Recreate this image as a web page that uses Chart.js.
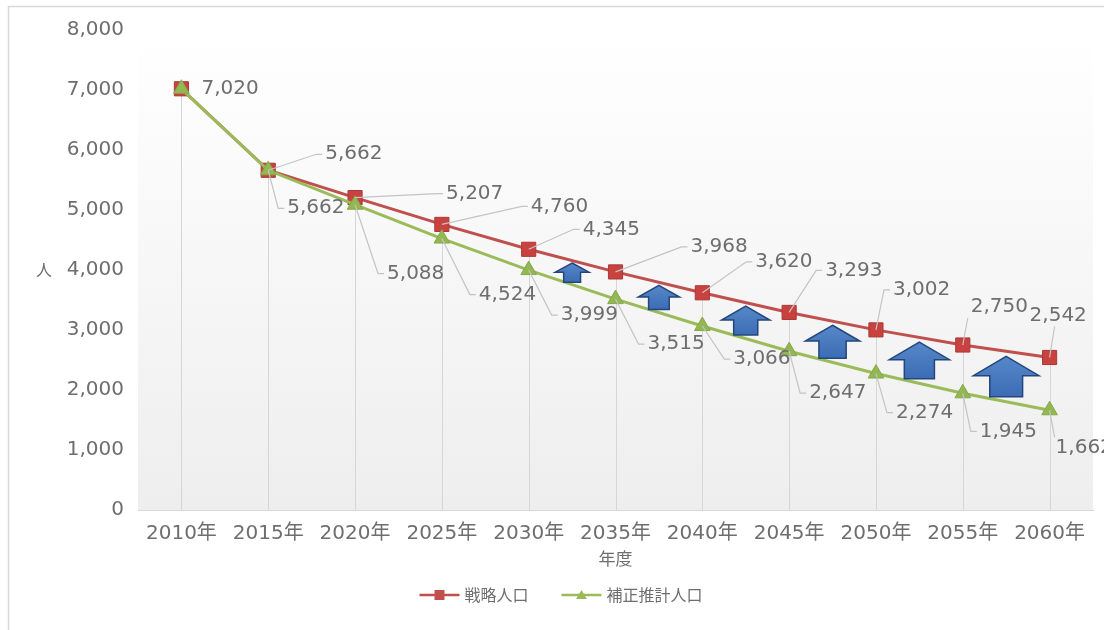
<!DOCTYPE html>
<html>
<head>
<meta charset="utf-8">
<script src="https://cdn.jsdelivr.net/npm/chart.js@4.4.0/dist/chart.umd.min.js"></script>
<style>
  body { margin: 0; background: #fff; }
  #wrap { width: 1104px; height: 630px; }
</style>
</head>
<body>
<div id="wrap"><canvas id="chart"></canvas></div>
<script>
// データ
const years = ["2010年", "2015年", "2020年", "2025年", "2030年", "2035年", "2040年", "2045年", "2050年", "2055年", "2060年"];
const senryaku = [7020, 5662, 5207, 4760, 4345, 3968, 3620, 3293, 3002, 2750, 2542];
const hosei = [7020, 5662, 5088, 4524, 3999, 3515, 3066, 2647, 2274, 1945, 1662];
const yTicks = [0, 1000, 2000, 3000, 4000, 5000, 6000, 7000, 8000];

// ラベル位置 (点からのずれ: 文字左端x, 文字中心y)
const redLabelPos = [[20, 0], [57, -16], [91, -4], [89, -18], [54, -20], [75, -25], [53, -31], [36, -42], [17, -40], [8, -38], [-20, -42]];
const greenLabelPos = [null, [19, 38], [32, 69], [37, 56], [32, 45], [32, 45], [31, 33], [20, 42], [20, 39], [17, 38], [6, 38]];
const arrowFrom = 4; // 2030年から矢印

const FONT = "'DejaVu Sans', 'Noto Sans CJK JP', sans-serif";
const JP = "'Noto Sans CJK JP', sans-serif";
const TEXT = '#6e6e6e';

function fmt(v) {
    return v.toLocaleString('en-US');
}

// 背景・枠・グラデーション
const backgroundPlugin = {
    id: 'background',
    beforeDraw(chart) {
        const ctx = chart.ctx;
        const a = chart.chartArea;
        ctx.save();
        ctx.fillStyle = '#fff';
        ctx.fillRect(0, 0, chart.width, chart.height);
        ctx.strokeStyle = '#d9d9d9';
        ctx.lineWidth = 1.5;
        ctx.beginPath();
        ctx.moveTo(8.5, chart.height);
        ctx.lineTo(8.5, 6.5);
        ctx.lineTo(chart.width, 6.5);
        ctx.stroke();
        const g = ctx.createLinearGradient(0, a.top, 0, a.bottom);
        g.addColorStop(0, '#ffffff');
        g.addColorStop(0.3, '#fafafa');
        g.addColorStop(1, '#eeeeee');
        ctx.fillStyle = g;
        ctx.fillRect(a.left, a.top, a.right - a.left, a.bottom - a.top);
        ctx.restore();
    }
};

// 降下線
const dropLinePlugin = {
    id: 'dropLines',
    beforeDatasetsDraw(chart) {
        const ctx = chart.ctx;
        const m0 = chart.getDatasetMeta(0).data;
        const m1 = chart.getDatasetMeta(1).data;
        ctx.save();
        ctx.strokeStyle = '#d6d6d6';
        ctx.lineWidth = 1;
        for (let i = 0; i < m0.length; i++) {
            const x = Math.round(m0[i].x) + 0.5;
            ctx.beginPath();
            ctx.moveTo(x, Math.min(m0[i].y, m1[i].y));
            ctx.lineTo(x, chart.chartArea.bottom);
            ctx.stroke();
        }
        ctx.restore();
    }
};

function drawArrow(ctx, cx, cy, w, h) {
    const headH = h * 0.48;
    const sw = w * 0.5;
    const top = cy - h / 2;
    const bottom = cy + h / 2;
    ctx.beginPath();
    ctx.moveTo(cx, top);
    ctx.lineTo(cx + w / 2, top + headH);
    ctx.lineTo(cx + sw / 2, top + headH);
    ctx.lineTo(cx + sw / 2, bottom);
    ctx.lineTo(cx - sw / 2, bottom);
    ctx.lineTo(cx - sw / 2, top + headH);
    ctx.lineTo(cx - w / 2, top + headH);
    ctx.closePath();
    const g = ctx.createLinearGradient(0, top, 0, bottom);
    g.addColorStop(0, '#5688c8');
    g.addColorStop(1, '#3c6cb4');
    ctx.fillStyle = g;
    ctx.fill();
    ctx.strokeStyle = '#23467c';
    ctx.lineWidth = 1.5;
    ctx.stroke();
}

// 上向き矢印
const arrowPlugin = {
    id: 'arrows',
    afterDatasetsDraw(chart) {
        const ctx = chart.ctx;
        const r = chart.getDatasetMeta(0).data;
        const g = chart.getDatasetMeta(1).data;
        ctx.save();
        for (let i = arrowFrom; i < r.length - 1; i++) {
            const cx = (r[i].x + r[i + 1].x) / 2;
            const ry = (r[i].y + r[i + 1].y) / 2;
            const gy = (g[i].y + g[i + 1].y) / 2;
            const gap = gy - ry;
            drawArrow(ctx, cx, (ry + gy) / 2, gap * 1.2 + 5, gap * 0.8);
        }
        ctx.restore();
    }
};

// データラベル + 引出線
const labelPlugin = {
    id: 'dataLabels',
    afterDatasetsDraw(chart) {
        const ctx = chart.ctx;
        ctx.save();
        ctx.font = '20px ' + FONT;
        ctx.textBaseline = 'middle';
        ctx.textAlign = 'left';
        [[0, redLabelPos, -1], [1, greenLabelPos, 1]].forEach(function (s) {
            const pts = chart.getDatasetMeta(s[0]).data;
            const vals = chart.data.datasets[s[0]].data;
            pts.forEach(function (p, i) {
                const off = s[1][i];
                if (!off) return;
                const tx = p.x + off[0];
                const ty = p.y + off[1];
                if (off[1] !== 0) {
                    ctx.strokeStyle = '#c4c4c4';
                    ctx.lineWidth = 1.2;
                    ctx.beginPath();
                    if (off[0] >= 12) {
                        ctx.moveTo(p.x, p.y);
                        ctx.lineTo(tx - 9, ty);
                        ctx.lineTo(tx - 3, ty);
                    } else {
                        ctx.moveTo(p.x, p.y);
                        ctx.lineTo(p.x + 5, ty - s[2] * 11);
                    }
                    ctx.stroke();
                }
                ctx.fillStyle = TEXT;
                ctx.fillText(fmt(vals[i]), tx, ty);
            });
        });
        ctx.restore();
    }
};

// 縦軸タイトルと凡例
const extraPlugin = {
    id: 'extra',
    afterDraw(chart) {
        const ctx = chart.ctx;
        const a = chart.chartArea;
        ctx.save();
        ctx.fillStyle = TEXT;
        ctx.font = '16px ' + JP;
        ctx.textAlign = 'center';
        ctx.textBaseline = 'middle';
        ctx.fillText('人', 44, (a.top + a.bottom) / 2);

        // 凡例
        ctx.font = '16px ' + JP;
        ctx.textAlign = 'left';
        const ds = chart.data.datasets;
        const y = 595;
        let widths = ds.map(d => 45 + ctx.measureText(d.label).width);
        let total = widths.reduce((s, w) => s + w, 0) + 33 * (ds.length - 1);
        let x = 561 - total / 2;
        ds.forEach(function (d, i) {
            ctx.strokeStyle = d.borderColor;
            ctx.lineWidth = 2.5;
            ctx.beginPath();
            ctx.moveTo(x, y);
            ctx.lineTo(x + 40, y);
            ctx.stroke();
            ctx.fillStyle = d.backgroundColor;
            ctx.beginPath();
            if (d.pointStyle === 'rect') {
                ctx.rect(x + 15, y - 5, 10, 10);
            } else {
                ctx.moveTo(x + 20, y - 5);
                ctx.lineTo(x + 25.5, y + 4);
                ctx.lineTo(x + 14.5, y + 4);
                ctx.closePath();
            }
            ctx.fill();
            ctx.fillStyle = TEXT;
            ctx.fillText(d.label, x + 45, y);
            x += widths[i] + 33;
        });
        ctx.restore();
    }
};

const chart = new Chart(document.getElementById('chart'), {
    type: 'line',
    data: {
        labels: years,
        datasets: [
            {
                label: '戦略人口',
                data: senryaku,
                borderColor: '#c0504d',
                backgroundColor: '#c0504d',
                borderWidth: 3,
                pointStyle: 'rect',
                pointRadius: 10,
                pointBackgroundColor: '#c9423f',
                pointBorderColor: '#a83a37',
                pointBorderWidth: 1,
                tension: 0,
                order: 1
            },
            {
                label: '補正推計人口',
                data: hosei,
                borderColor: '#9bbb59',
                backgroundColor: '#9bbb59',
                borderWidth: 3,
                pointStyle: 'triangle',
                pointRadius: 9,
                pointBackgroundColor: '#93b752',
                pointBorderColor: '#86a84a',
                pointBorderWidth: 1,
                tension: 0,
                order: 0
            }
        ]
    },
    options: {
        responsive: true,
        maintainAspectRatio: false,
        animation: false,
        layout: { padding: { top: 30, right: 8, bottom: 54, left: 0 } },
        plugins: {
            legend: { display: false },
            tooltip: { enabled: false }
        },
        scales: {
            x: {
                offset: true,
                grid: { display: false, drawTicks: false },
                border: { color: '#d9d9d9', width: 1 },
                ticks: { color: TEXT, font: { family: FONT, size: 20 }, padding: 12, maxRotation: 0, autoSkip: false },
                title: { display: true, text: '年度', color: TEXT, font: { family: JP, size: 17 }, padding: { top: 2, bottom: 7 } },
                afterFit: function (s) { s.height = 66; }
            },
            y: {
                min: 0,
                max: 8000,
                grid: { display: false, drawTicks: false },
                border: { display: false },
                afterBuildTicks: function (s) { s.ticks = yTicks.map(v => ({ value: v })); },
                ticks: { color: TEXT, font: { family: FONT, size: 20 }, padding: 14, callback: v => fmt(v) },
                afterFit: function (s) { s.width = 138; }
            }
        }
    },
    plugins: [backgroundPlugin, dropLinePlugin, arrowPlugin, labelPlugin, extraPlugin]
});
</script>
</body>
</html>
